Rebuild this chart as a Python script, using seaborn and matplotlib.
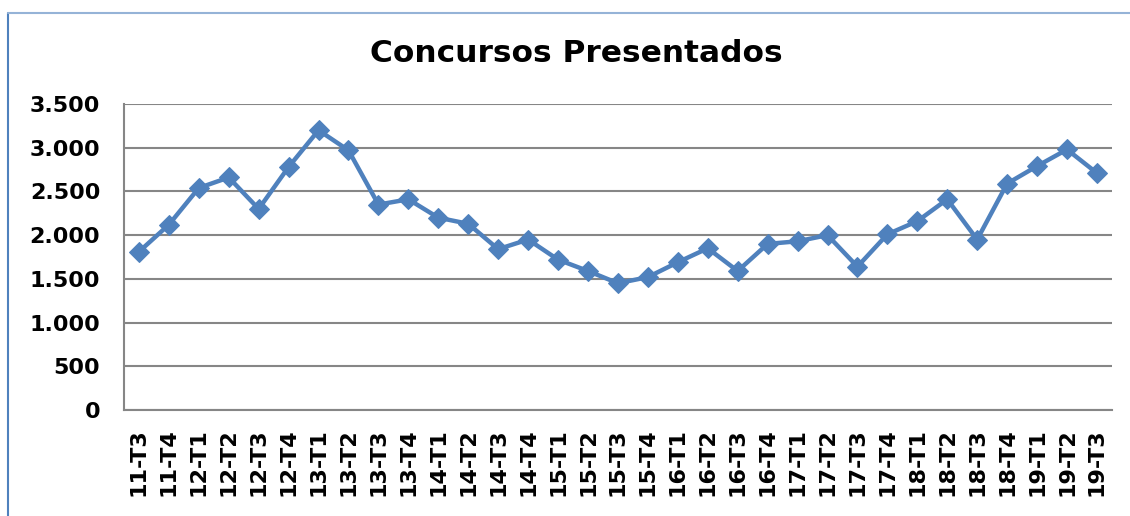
import pandas as pd
import matplotlib.pyplot as plt
import matplotlib.ticker as mticker
from matplotlib.lines import Line2D
import seaborn as sns

periods = ['11-T3', '11-T4', '12-T1', '12-T2', '12-T3', '12-T4', '13-T1', '13-T2',
           '13-T3', '13-T4', '14-T1', '14-T2', '14-T3', '14-T4', '15-T1', '15-T2',
           '15-T3', '15-T4', '16-T1', '16-T2', '16-T3', '16-T4', '17-T1', '17-T2',
           '17-T3', '17-T4', '18-T1', '18-T2', '18-T3', '18-T4', '19-T1', '19-T2', '19-T3']
concursos = [1810, 2120, 2540, 2660, 2300, 2780, 3200, 2970,
             2350, 2410, 2200, 2130, 1840, 1950, 1720, 1590,
             1450, 1520, 1690, 1850, 1590, 1900, 1930, 2000,
             1640, 2010, 2160, 2410, 1950, 2590, 2790, 2980, 2710]

df = pd.DataFrame({'periodo': periods, 'concursos': concursos})

sns.set_style('white')
plt.rcParams['font.family'] = ['DejaVu Sans']
plt.rcParams['text.color'] = 'black'
plt.rcParams['xtick.color'] = 'black'
plt.rcParams['ytick.color'] = 'black'

fig = plt.figure(figsize=(11.3, 5.16), dpi=100)
ax = fig.add_axes([0.1097, 0.2054, 0.8743, 0.593])

sns.lineplot(data=df, x='periodo', y='concursos', ax=ax, sort=False,
             color='#4F81BD', linewidth=3.2, marker='D', markersize=10,
             markeredgecolor='#4F81BD')

ax.set_xlim(-0.5, len(periods) - 0.5)
ax.set_ylim(0, 3500)
ax.set_yticks(range(0, 3501, 500))
ax.yaxis.set_major_formatter(mticker.FuncFormatter(lambda v, p: f'{int(v):,}'.replace(',', '.')))
ax.grid(axis='y', color='#868686', linewidth=1.5)
ax.grid(axis='x', visible=False)
ax.set_axisbelow(True)

for s in ['top', 'right']:
    ax.spines[s].set_visible(False)
for s in ['left', 'bottom']:
    ax.spines[s].set_color('#868686')
    ax.spines[s].set_linewidth(1.5)

ax.set_xlabel('')
ax.set_ylabel('')
ax.tick_params(axis='y', length=0, pad=17, labelsize=16, labelcolor='black')
ax.tick_params(axis='x', length=0, pad=13, labelsize=16, rotation=90, labelcolor='black')
for lab in ax.get_xticklabels() + ax.get_yticklabels():
    lab.set_fontweight('bold')

fig.suptitle('Concursos Presentados', fontsize=22.5, fontweight='bold',
             color='black', x=0.51, y=0.925)

# chart frame (left and top edges)
fig.add_artist(Line2D([0.0075, 0.0075], [0, 0.975], color='#4F81BD', lw=1.5))
fig.add_artist(Line2D([0.0075, 1], [0.975, 0.975], color='#95B3D7', lw=1.5))

fig.savefig('out.png', dpi=100)
